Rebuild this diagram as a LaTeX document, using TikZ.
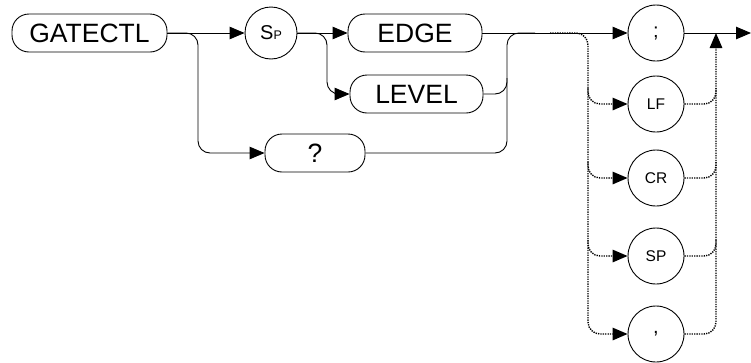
\documentclass[tikz,border=0pt]{standalone}
\usepackage{fontspec}
\setmainfont{Liberation Sans}
\usetikzlibrary{arrows.meta}
\begin{document}
\begin{tikzpicture}[x=1pt,y=-1pt,
  line width=0.9pt,
  box/.style={draw, rounded corners=17pt, minimum height=38pt, inner sep=0pt, font=\fontsize{26.5}{26.5}\selectfont},
  circ/.style={draw, circle, inner sep=0pt, minimum size=#1},
  arr/.style={-{Triangle[length=15pt,width=12.5pt]}},
  dot/.style={line width=1.4pt, dash pattern=on 1.3pt off 1.1pt},
  rc/.style={rounded corners=12pt}]
\useasboundingbox (0,0) rectangle (751,362);
% main nodes
\node[box, minimum width=155pt] (gate) at (89.5,33) {GATECTL};
\node[circ=52pt] (sp) at (271,33) {\fontsize{20}{20}\selectfont S\fontsize{12.5}{12.5}\selectfont P};
\node[box, minimum width=134pt] (edge) at (415,33) {EDGE};
\node[box, minimum width=133pt] (level) at (416.5,94) {LEVEL};
\node[box, minimum width=100pt] (q) at (315,153) {?};
\node[circ=56pt, font=\fontsize{20}{20}\selectfont] (semi) at (656,33) {;};
\node[circ=56pt, font=\fontsize{15.5}{15.5}\selectfont] (lf) at (656,104) {LF};
\node[circ=56pt, font=\fontsize{15.5}{15.5}\selectfont] (cr) at (656,178) {CR};
\node[circ=56pt, font=\fontsize{15.5}{15.5}\selectfont] (spc) at (656,256) {SP};
\node[circ=56pt, font=\fontsize{20}{20}\selectfont] (comma) at (656,334) {,};
% coordinates
\coordinate (b1) at (198,153);
\coordinate (b2) at (327,94);
\coordinate (m0) at (507,153);
\coordinate (m1) at (507,33);
\coordinate (m2) at (535,33);
\coordinate (m3) at (507,78);
\coordinate (d0) at (550,33);
\coordinate (d1) at (588,33);
\coordinate (dl) at (588,334);
\coordinate (lfa) at (588,88);
\coordinate (cra) at (588,162);
\coordinate (spa) at (588,240);
\coordinate (r1) at (716,33);
\coordinate (lfb) at (716,88);
\coordinate (crb) at (716,162);
\coordinate (spb) at (716,240);
\coordinate (fin) at (751,33);
% solid connectors
\draw[arr] (gate.east) -- (sp.west);
\draw[arr, rc] (gate.east) -| (b1) -- (q.west);
\draw[arr] (sp.east) -- (edge.west);
\draw[arr, rc] (sp.east) -| (b2) -- (level.west);
\draw[arr] (edge.east) -- (semi.west);
\draw[rc] (q.east) -- (m0) -- (m1) -- (m2);
\draw[rc] (level.east) -| (m3);
\draw[arr] (semi.east) -- (fin);
% dotted connectors
\draw[dot, rc, arr] (d0) -- (d1) -- (dl) -- (comma.west);
\draw[dot, rc, arr] (lfa) |- (lf.west);
\draw[dot, rc, arr] (cra) |- (cr.west);
\draw[dot, rc, arr] (spa) |- (spc.west);
\draw[dot, rc, arr] (comma.east) -| (r1);
\draw[dot, rc] (lf.east) -| (lfb);
\draw[dot, rc] (cr.east) -| (crb);
\draw[dot, rc] (spc.east) -| (spb);
\end{tikzpicture}
\end{document}
